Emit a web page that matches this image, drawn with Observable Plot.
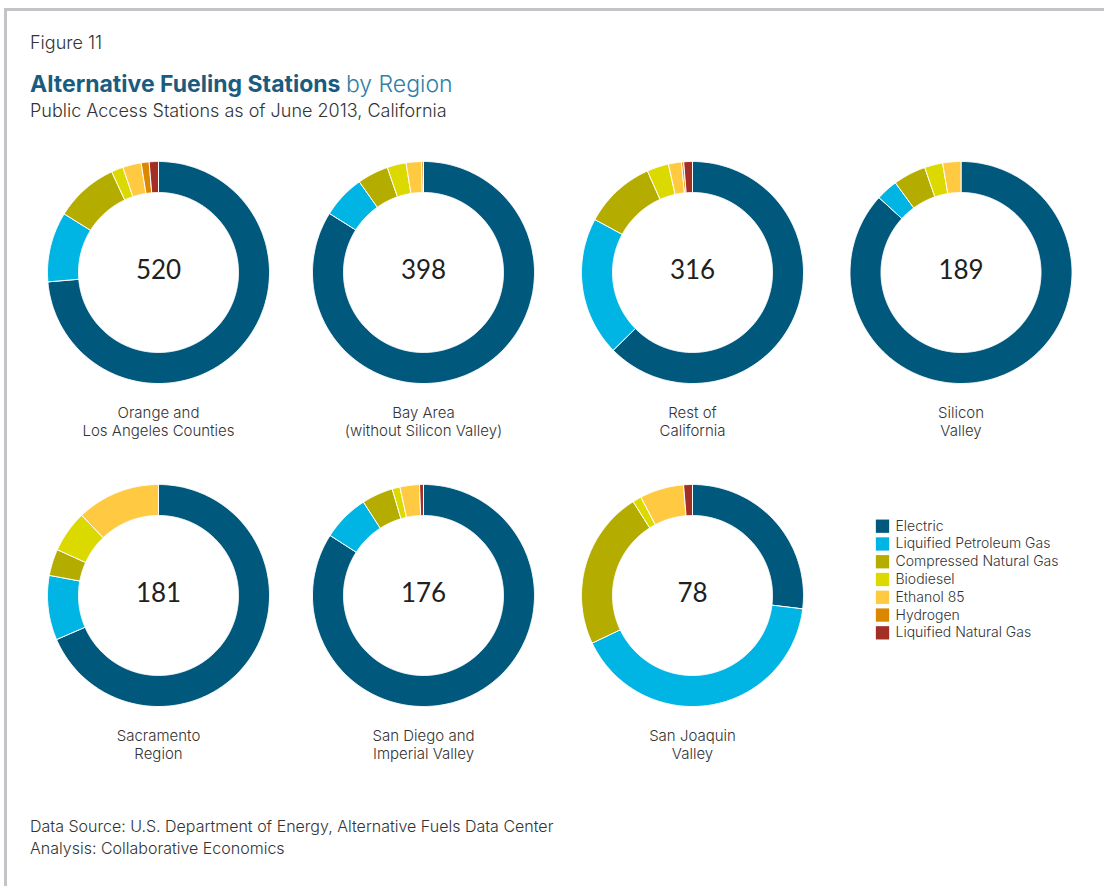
<!DOCTYPE html>
<html><head><meta charset="utf-8">
<script src="https://cdn.jsdelivr.net/npm/d3@7"></script>
<script src="https://cdn.jsdelivr.net/npm/@observablehq/plot@0.6"></script>
<style>
body{margin:0;background:#fff;font-family:Inter,"Open Sans",sans-serif;}
#page{position:relative;width:1104px;height:886px;overflow:hidden;background:#fff}
.frameTop{position:absolute;left:4px;top:8px;width:1100px;height:3px;background:#c4c4c8;z-index:2}
.frameLeft{position:absolute;left:4px;top:8px;width:3px;height:878px;background:#c4c4c8;z-index:2}
.t{position:absolute;left:30px;white-space:nowrap;color:#333;font-weight:300}
#fig{top:34px;font-size:18px;line-height:18px}
#title{top:73px;font-size:23px;line-height:23px;color:#1a5c80;font-weight:700}
#title span{font-weight:300;color:#2f7fa8}
#sub{top:102px;font-size:18px;line-height:18px}
#cap{top:815px;font-size:16px;line-height:22px}
#chart{position:absolute;left:0;top:140px}
</style></head>
<body><div id="page">
<div class="frameTop"></div><div class="frameLeft"></div>
<div class="t" id="fig">Figure 11</div>
<div class="t" id="title">Alternative Fueling Stations <span>by Region</span></div>
<div class="t" id="sub">Public Access Stations as of June 2013, California</div>
<div id="chart"></div>
<div class="t" id="cap">Data Source: U.S. Department of Energy, Alternative Fuels Data Center<br>Analysis: Collaborative Economics</div>
</div>
<script>
// ---- data ----
const regions = ["Orange and\nLos Angeles Counties", "Bay Area\n(without Silicon Valley)", "Rest of\nCalifornia", "Silicon\nValley", "Sacramento\nRegion", "San Diego and\nImperial Valley", "San Joaquin\nValley"];
const totals = [520, 398, 316, 189, 181, 176, 78];
const fuels = ["Electric", "Liquified Petroleum Gas", "Compressed Natural Gas", "Biodiesel", "Ethanol 85", "Hydrogen", "Liquified Natural Gas"];
const electric  = [383, 334, 198, 164, 124, 148, 21];
const lpg       = [53, 25, 64, 6, 17, 12, 32];
const cng       = [48, 18, 33, 9, 7, 8, 18];
const biodiesel = [9, 11, 10, 5, 11, 2, 1];
const ethanol85 = [14, 9, 6, 5, 22, 5, 5];
const hydrogen  = [6, 1, 1, 0, 0, 0, 0];
const lng       = [7, 0, 4, 0, 0, 1, 1];
const fuelColors = ["#00587D", "#00B4E3", "#B5AC00", "#DCD900", "#FFCA42", "#DB8700", "#A22E26"];

// ---- layout ----
const W = 1104, H = 640;
const colX = [158, 423, 692, 960.5];
const rowY = [132, 455];
const R = 111, r = 80;
const series = [electric, lpg, cng, biodiesel, ethanol85, hydrogen, lng];
const centers = regions.map((d, i) => ({
  region: d, total: totals[i],
  cx: colX[i < 4 ? i : i - 4], cy: rowY[i < 4 ? 0 : 1]
}));

const slices = [];
centers.forEach((c, i) => {
  const vals = series.map(s => s[i]);
  const total = d3.sum(vals);
  let acc = 0;
  vals.forEach((v, k) => {
    if (!v) return;
    const a0 = acc / total * 2 * Math.PI, a1 = (acc + v) / total * 2 * Math.PI;
    acc += v;
    const n = Math.max(2, Math.ceil((a1 - a0) / (Math.PI / 360)));
    const pts = [];
    for (let j = 0; j <= n; j++) { const a = a0 + (a1 - a0) * j / n; pts.push([c.cx + R * Math.sin(a), c.cy - R * Math.cos(a)]); }
    for (let j = n; j >= 0; j--) { const a = a0 + (a1 - a0) * j / n; pts.push([c.cx + r * Math.sin(a), c.cy - r * Math.cos(a)]); }
    pts.push(pts[0]);
    pts.forEach(p => slices.push({x: p[0], y: p[1], id: i + "-" + k, fuel: fuels[k]}));
  });
});

const legendX = 882, legendY0 = 385.7, legendStep = 17.77;

const plot = Plot.plot({
  width: W, height: H,
  margin: 0,
  style: {background: "transparent", fontFamily: "Inter, 'Open Sans', sans-serif", overflow: "visible"},
  x: {type: "linear", domain: [0, W], range: [0, W], axis: null},
  y: {type: "linear", domain: [0, H], range: [0, H], axis: null},
  color: {domain: fuels, range: fuelColors},
  marks: [
    Plot.line(slices, {x: "x", y: "y", z: "id", fill: "fuel", stroke: "white", strokeWidth: 1, curve: "linear"}),
    Plot.text(centers, {x: "cx", y: d => d.cy - 2, text: d => String(d.total), fontSize: 26, fill: "#231f20", fontWeight: 400, fontFamily: "Lato, sans-serif"}),
    Plot.text(centers, {x: "cx", y: d => d.cy + 133, text: "region", lineAnchor: "top", lineHeight: 1.2, fontSize: 15, fill: "#333", fontWeight: 300}),
    Plot.dot(fuels, {x: legendX, y: (d, i) => legendY0 + i * legendStep, symbol: "square", r: 7.5, fill: d => d, stroke: null}),
    Plot.text(fuels, {x: legendX + 13, y: (d, i) => legendY0 + i * legendStep, text: d => d, textAnchor: "start", fontSize: 14, fill: "#333", fontWeight: 300})
  ]
});
document.getElementById("chart").appendChild(plot);
</script>
</body></html>
